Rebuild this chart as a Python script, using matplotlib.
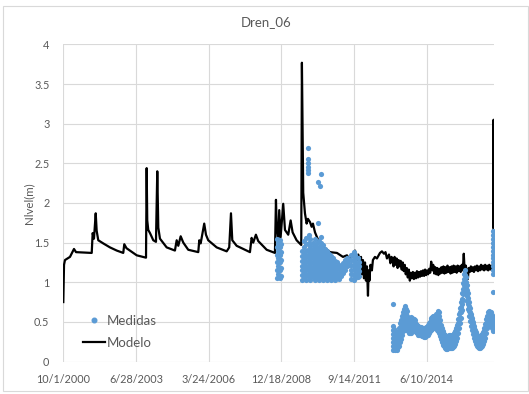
import numpy as np
import pandas as pd
import matplotlib
matplotlib.use("Agg")
import matplotlib.pyplot as plt
from matplotlib.lines import Line2D
from matplotlib.patches import Rectangle

# ---------------- data (x values are Excel serial dates) ----------------
title = "Dren_06"
y_label = "Nlvel(m)"
tick_serials = [36800, 37800, 38800, 39800, 40800, 41800]
tick_labels = ["10/1/2000", "6/28/2003", "3/24/2006", "12/18/2008", "9/14/2011", "6/10/2014"]
x_range = [36800, 42726]
y_range = [0, 4]

# Modelo (simulated level), vertices
model_x = [36800, 36810, 36823, 36892, 36947, 36975, 37191, 37204, 37222, 37246,
           37259, 37281, 37350, 37442, 37535, 37625, 37639, 37669, 37810, 37938,
           37947, 37955, 37969, 37993, 38038, 38075, 38093, 38107, 38130, 38222,
           38336, 38360, 38382, 38415, 38451, 38519, 38612, 38657, 38671, 38690,
           38739, 38763, 38794, 38910, 39048, 39083, 39107, 39125, 39185, 39323,
           39368, 39391, 39413, 39450, 39482, 39598, 39712, 39726, 39735, 39757,
           39771, 39790, 39826, 39850, 39895, 39928, 39955, 40010, 40074, 40083,
           40101, 40125, 40148, 40166, 40194, 40217, 40235, 40263, 40308, 40377,
           40469, 40565, 40648, 40703, 40745, 40786, 40813, 40841, 40858, 40882,
           40896, 40909, 40923, 40937, 40951, 40964, 40978, 40992, 41001, 41012,
           41026, 41046, 41060, 41088, 41115, 41157, 41184, 41212, 41233, 41253,
           41281, 41301, 41316,
           41330, 41344, 41358, 41372, 41386, 41400, 41414, 41428, 41442, 41456,
           41470, 41484, 41498, 41512, 41526, 41540, 41554, 41568, 41582, 41596,
           41610, 41624, 41638, 41652, 41666, 41680, 41694, 41708, 41722, 41736,
           41750, 41764, 41778, 41792, 41806, 41820, 41834, 41848, 41862, 41876,
           41890, 41904, 41918, 41932, 41946, 41960, 41974, 41988, 42002, 42016,
           42030, 42044, 42058, 42072, 42086, 42100, 42114, 42128, 42142, 42156,
           42170, 42184, 42198, 42212, 42226, 42240, 42254, 42268, 42282, 42296,
           42310, 42324, 42338, 42352, 42366, 42380, 42394, 42408, 42422, 42436,
           42450, 42464, 42478, 42492, 42506, 42520, 42534, 42548, 42562, 42576,
           42590, 42604, 42618, 42632, 42646, 42660, 42674, 42688, 42702, 42716,
           42720, 42722, 42724]
model_y = [0.75, 1.22, 1.28, 1.32, 1.42, 1.38, 1.37, 1.62, 1.55, 1.87,
           1.65, 1.53, 1.49, 1.44, 1.40, 1.37, 1.48, 1.43, 1.34, 1.31,
           2.44, 1.78, 1.66, 1.62, 1.53, 1.51, 2.40, 1.69, 1.55, 1.44,
           1.40, 1.53, 1.46, 1.58, 1.50, 1.41, 1.39, 1.38, 1.53, 1.49,
           1.74, 1.60, 1.53, 1.44, 1.39, 1.44, 1.87, 1.53, 1.46, 1.40,
           1.38, 1.56, 1.50, 1.60, 1.52, 1.41, 1.37, 2.04, 1.74, 1.53,
           1.91, 1.57, 1.99, 1.66, 1.60, 1.78, 1.63, 1.53, 1.47, 3.77,
           2.13, 1.87, 1.74, 1.80, 1.76, 1.70, 1.74, 1.63, 1.53, 1.45,
           1.38, 1.37, 1.32, 1.34, 1.28, 1.35, 1.40, 1.28, 1.35, 1.22,
           1.32, 1.10, 1.28, 1.05, 1.25, 1.02, 1.20, 0.83, 1.15, 1.02,
           1.22, 1.15, 1.28, 1.32, 1.30, 1.37, 1.39, 1.36, 1.38, 1.30,
           1.35, 1.24, 1.32,
           1.30, 1.20, 1.32, 1.22, 1.30, 1.18, 1.28, 1.20, 1.27, 1.16,
           1.25, 1.14, 1.22, 1.10, 1.18, 1.06, 1.16, 1.02, 1.12, 1.05,
           1.13, 1.04, 1.12, 1.05, 1.14, 1.06, 1.13, 1.07, 1.14, 1.08,
           1.15, 1.08, 1.16, 1.09, 1.15, 1.10, 1.17, 1.12, 1.26, 1.15,
           1.22, 1.11, 1.19, 1.10, 1.18, 1.09, 1.17, 1.11, 1.19, 1.12,
           1.20, 1.11, 1.19, 1.12, 1.21, 1.13, 1.19, 1.11, 1.20, 1.12,
           1.21, 1.13, 1.20, 1.12, 1.21, 1.14, 1.20, 1.13, 1.22, 1.15,
           1.36, 1.12, 1.21, 1.14, 1.04, 1.18, 1.13, 1.20, 1.14, 1.19,
           1.13, 1.20, 1.15, 1.21, 1.14, 1.20, 1.15, 1.22, 1.16, 1.21,
           1.15, 1.22, 1.16, 1.21, 1.15, 1.22, 1.16, 1.21, 1.17, 1.22,
           3.05, 1.95, 1.70]

strip08_x = [39745, 39760, 39775, 39790]
strip08_y = [[1.05, 1.15, 1.25, 1.35, 1.45, 1.55],
             [1.10, 1.20, 1.30, 1.40, 1.50],
             [1.05, 1.15, 1.25, 1.35, 1.45, 1.53],
             [1.08, 1.18, 1.28, 1.38, 1.48]]

blob09_x = [40090, 40118, 40146, 40174, 40201, 40229, 40257, 40284, 40312, 40339,
            40367, 40394, 40422, 40449, 40477, 40504, 40532, 40559, 40587, 40615,
            40642, 40670, 40697, 40725, 40765, 40793, 40820, 40848, 40875]
blob09_y = [[1.03, 1.09, 1.15, 1.21, 1.27, 1.33, 1.40],
            [1.06, 1.12, 1.18, 1.24, 1.30, 1.36, 1.45, 1.52],
            [1.03, 1.09, 1.15, 1.21, 1.27, 1.33, 1.39, 1.48, 1.56],
            [1.06, 1.12, 1.18, 1.24, 1.30, 1.36, 1.42, 1.50, 1.60],
            [1.03, 1.09, 1.15, 1.21, 1.27, 1.33, 1.39, 1.46, 1.55],
            [1.06, 1.12, 1.18, 1.24, 1.30, 1.36, 1.42, 1.50],
            [1.03, 1.09, 1.15, 1.21, 1.27, 1.33, 1.39, 1.46, 1.54],
            [1.06, 1.12, 1.18, 1.24, 1.30, 1.36, 1.42, 1.49],
            [1.03, 1.09, 1.15, 1.21, 1.27, 1.33, 1.39, 1.45, 1.52],
            [1.06, 1.12, 1.18, 1.24, 1.30, 1.36, 1.42, 1.50, 1.57],
            [1.03, 1.09, 1.15, 1.21, 1.27, 1.33, 1.40, 1.47],
            [1.06, 1.12, 1.18, 1.24, 1.30, 1.36, 1.42],
            [1.03, 1.09, 1.15, 1.21, 1.27, 1.33, 1.39],
            [1.06, 1.12, 1.18, 1.24, 1.30, 1.36],
            [1.03, 1.09, 1.15, 1.21, 1.27, 1.33],
            [1.06, 1.12, 1.18, 1.24, 1.30],
            [1.03, 1.09, 1.15, 1.21, 1.27],
            [1.06, 1.12, 1.18, 1.25],
            [1.04, 1.10, 1.17, 1.22],
            [1.08, 1.14, 1.20],
            [1.12, 1.18, 1.24],
            [1.16, 1.22, 1.28],
            [1.20, 1.26, 1.31],
            [1.22, 1.28],
            [1.04, 1.10, 1.16, 1.22, 1.28, 1.34],
            [1.03, 1.09, 1.15, 1.21, 1.27, 1.33, 1.38],
            [1.05, 1.11, 1.17, 1.23, 1.29, 1.35],
            [1.06, 1.12, 1.18, 1.24, 1.30],
            [1.08, 1.14, 1.20, 1.26]]

peaks09_x = [40160, 40160, 40160, 40160, 40160, 40160, 40345, 40300, 40335, 40308]
peaks09_y = [2.70, 2.56, 2.50, 2.46, 2.42, 2.38, 2.37, 2.27, 2.21, 1.75]

low_x = [41342, 41336, 41349, 41363, 41377, 41391, 41404, 41418, 41432, 41446, 41460,
         41473, 41487, 41501, 41515, 41529, 41542, 41556, 41570, 41584, 41597,
         41611, 41625, 41639, 41652, 41666, 41680, 41694, 41707, 41721, 41735,
         41749, 41762, 41776, 41790, 41804, 41818, 41831, 41845, 41859, 41873,
         41887, 41900, 41914, 41928, 41942, 41955, 41969, 41983, 41997, 42010,
         42024, 42037, 42051, 42065, 42079, 42092, 42106, 42120, 42134, 42147,
         42161, 42175, 42189, 42202, 42216, 42230, 42244, 42257, 42271, 42285,
         42299, 42313, 42326, 42340, 42354, 42367, 42381, 42395, 42409, 42422,
         42436, 42450, 42464, 42477, 42491, 42505, 42519, 42532, 42546, 42560,
         42574, 42587, 42601, 42615, 42629, 42642, 42656, 42670, 42684, 42697,
         42711, 42722]
low_y = [[0.72],
         [0.15, 0.20, 0.25, 0.30, 0.35, 0.40, 0.45], [0.17, 0.23, 0.29, 0.35, 0.41],
         [0.15, 0.20, 0.26, 0.32, 0.38], [0.16, 0.22, 0.28, 0.34],
         [0.14, 0.19, 0.25, 0.31, 0.36], [0.18, 0.24, 0.30, 0.37],
         [0.20, 0.26, 0.32, 0.38, 0.42], [0.24, 0.30, 0.36, 0.42, 0.48],
         [0.28, 0.34, 0.40, 0.46, 0.52], [0.33, 0.39, 0.45, 0.52, 0.58],
         [0.38, 0.44, 0.50, 0.57, 0.63], [0.40, 0.46, 0.52, 0.59, 0.66],
         [0.42, 0.48, 0.55, 0.62, 0.70], [0.41, 0.47, 0.53, 0.60, 0.66],
         [0.40, 0.46, 0.52, 0.58, 0.64], [0.38, 0.44, 0.50, 0.55],
         [0.36, 0.42, 0.48, 0.52], [0.36, 0.42, 0.48, 0.54],
         [0.36, 0.42, 0.48, 0.56], [0.38, 0.44, 0.50, 0.55],
         [0.40, 0.45, 0.50, 0.53], [0.39, 0.44, 0.49, 0.53],
         [0.38, 0.43, 0.48, 0.52], [0.37, 0.42, 0.47],
         [0.36, 0.41, 0.46], [0.34, 0.39, 0.45],
         [0.33, 0.38, 0.43], [0.33, 0.38, 0.43],
         [0.33, 0.38, 0.43], [0.32, 0.37, 0.42],
         [0.32, 0.37, 0.42], [0.31, 0.36, 0.41],
         [0.31, 0.36, 0.42], [0.32, 0.37, 0.43],
         [0.33, 0.38, 0.44], [0.34, 0.40, 0.46],
         [0.36, 0.42, 0.48], [0.38, 0.44, 0.50],
         [0.40, 0.46, 0.52, 0.55], [0.41, 0.47, 0.53, 0.56],
         [0.42, 0.48, 0.54, 0.57], [0.43, 0.49, 0.55],
         [0.44, 0.50, 0.56], [0.42, 0.49, 0.56, 0.60],
         [0.40, 0.47, 0.54, 0.60], [0.38, 0.45, 0.52, 0.60, 0.64],
         [0.36, 0.43, 0.50, 0.57, 0.63], [0.32, 0.39, 0.46, 0.52],
         [0.28, 0.34, 0.40, 0.46], [0.24, 0.30, 0.36, 0.42],
         [0.21, 0.27, 0.33, 0.38], [0.19, 0.25, 0.31, 0.35],
         [0.17, 0.23, 0.29, 0.33], [0.16, 0.22, 0.28, 0.31],
         [0.16, 0.21, 0.26, 0.30], [0.17, 0.22, 0.27, 0.32],
         [0.18, 0.23, 0.28, 0.33], [0.17, 0.22, 0.28, 0.33],
         [0.17, 0.22, 0.27, 0.32], [0.17, 0.22, 0.28, 0.33],
         [0.18, 0.23, 0.29, 0.34], [0.20, 0.26, 0.32, 0.36],
         [0.22, 0.28, 0.34, 0.38], [0.26, 0.32, 0.38, 0.42],
         [0.30, 0.36, 0.42, 0.46], [0.36, 0.42, 0.48, 0.53],
         [0.42, 0.48, 0.54, 0.60], [0.48, 0.55, 0.62, 0.68],
         [0.55, 0.62, 0.69, 0.75], [0.65, 0.72, 0.79, 0.86],
         [0.78, 0.85, 0.92, 0.99], [0.90, 0.97, 1.04, 1.11],
         [0.95, 1.02, 1.09, 1.15], [0.86, 0.93, 1.00, 1.06],
         [0.76, 0.83, 0.90, 0.96], [0.66, 0.73, 0.80, 0.86],
         [0.58, 0.64, 0.70, 0.75], [0.51, 0.57, 0.63, 0.67],
         [0.45, 0.51, 0.57, 0.60], [0.40, 0.46, 0.52, 0.55],
         [0.35, 0.41, 0.47, 0.50], [0.30, 0.36, 0.42, 0.45],
         [0.26, 0.32, 0.38, 0.40], [0.22, 0.28, 0.34, 0.37],
         [0.20, 0.26, 0.32, 0.34], [0.18, 0.24, 0.30, 0.32],
         [0.17, 0.23, 0.29, 0.31], [0.17, 0.23, 0.29, 0.32],
         [0.18, 0.24, 0.30, 0.33], [0.20, 0.26, 0.32, 0.35],
         [0.22, 0.28, 0.34, 0.37], [0.26, 0.32, 0.38, 0.42],
         [0.30, 0.36, 0.42, 0.47], [0.36, 0.42, 0.48, 0.53],
         [0.42, 0.48, 0.54, 0.58], [0.46, 0.52, 0.58, 0.62],
         [0.50, 0.55, 0.60, 0.64], [0.48, 0.54, 0.60, 0.63],
         [0.46, 0.52, 0.58, 0.62], [0.42, 0.48, 0.54, 0.59],
         [0.38, 0.44, 0.50, 0.56], [0.40, 0.46, 0.52]]

strip16_x = [42718]
strip16_y = [[0.88, 1.10, 1.15, 1.20, 1.25, 1.30, 1.35, 1.40, 1.45, 1.50, 1.55, 1.60, 1.65]]

# ---------------- drawing ----------------
def to_dt(serials):
    return pd.to_datetime(np.asarray(serials, dtype=float), unit="D", origin="1899-12-30")

meas_x, meas_y = [], []
for cols_x, cols_y in [(strip08_x, strip08_y), (blob09_x, blob09_y),
                       (low_x, low_y), (strip16_x, strip16_y)]:
    for cx, vals in zip(cols_x, cols_y):
        meas_x += [cx] * len(vals)
        meas_y += vals
meas_x += peaks09_x
meas_y += peaks09_y

plt.rcParams["font.family"] = ["Lato", "DejaVu Sans"]
grey_txt = "#595959"
grid_c = "#D9D9D9"
blue = "#5B9BD5"

W, H = 529, 394
fig = plt.figure(figsize=(W / 100, H / 100), dpi=100)
fig.patches.append(Rectangle((3 / W, 3 / H), 525 / W, 385 / H, transform=fig.transFigure,
                             fill=False, edgecolor=grid_c, lw=0.8))

L, R, T, B = 63.3, 494.0, 44.5, 361.5
ax = fig.add_axes([L / W, (H - B) / H, (R - L) / W, (B - T) / H])

ax.plot(to_dt(model_x), model_y, color="black", lw=1.6, zorder=3)
ax.scatter(to_dt(meas_x), meas_y, s=14, color=blue, linewidths=0, zorder=4)

ax.set_xlim(to_dt(x_range))
ax.set_ylim(*y_range)
ax.set_xticks(to_dt(tick_serials))
ax.set_xticklabels(tick_labels)
ax.set_yticks(np.arange(0, 4.01, 0.5))
ax.set_yticklabels(["0", "0.5", "1", "1.5", "2", "2.5", "3", "3.5", "4"])
ax.grid(True, color=grid_c, lw=0.8)
ax.set_axisbelow(True)
for s in ax.spines.values():
    s.set_visible(False)
ax.tick_params(length=0, colors=grey_txt, labelsize=7.8)
ax.tick_params(axis="x", pad=9)
ax.tick_params(axis="y", pad=10)

ax.set_ylabel(y_label, color=grey_txt, fontsize=8.3)
ax.yaxis.set_label_coords(-0.068, 0.5)
fig.text(266 / W, 1 - 22 / H, title, ha="center", va="center", color=grey_txt, fontsize=9.5)

handles = [Line2D([], [], ls="none", marker="o", ms=3.3, color=blue, mec=blue),
           Line2D([], [], color="black", lw=1.6)]
ax.legend(handles, ["Medidas", "Modelo"], loc="upper left", frameon=False,
          bbox_to_anchor=(82.6 / W, 1 - 315 / H), bbox_transform=fig.transFigure,
          borderpad=0, borderaxespad=0, handlelength=1.7, handletextpad=0.1,
          labelspacing=0.75, fontsize=9.5, labelcolor=grey_txt)

fig.savefig("out.png", dpi=100)
